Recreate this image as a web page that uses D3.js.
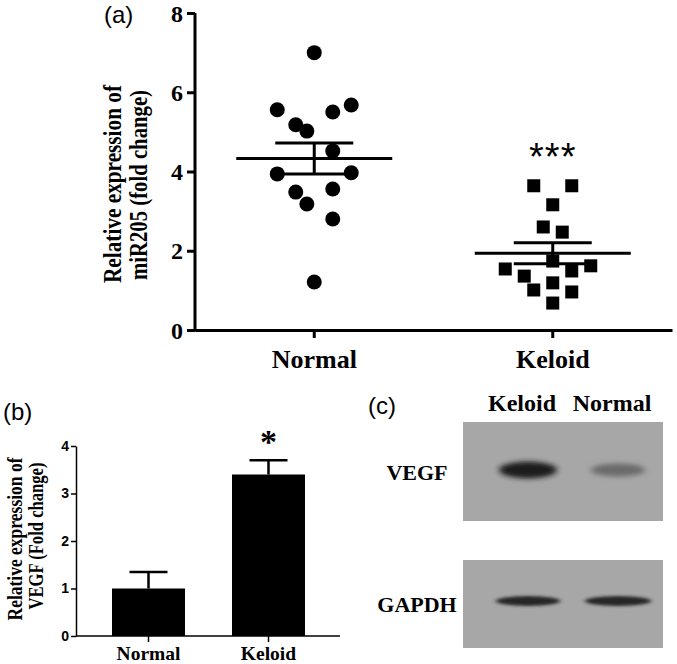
<!DOCTYPE html>
<html><head><meta charset="utf-8">
<script src="https://cdn.jsdelivr.net/npm/d3@7"></script>
<style>body{margin:0;background:#fff}svg{display:block}</style>
</head><body>
<svg id="c" width="677" height="664"></svg>
<script>
// ---- Panel (a) data ----
const groupsA = ["Normal", "Keloid"];
const normalVals = [7.0, 5.56, 5.68, 5.5, 5.18, 5.02, 4.52, 3.94, 3.97, 3.48, 3.56, 3.18, 2.8, 1.21];
const normalOffsets = [0, -1, 1, 0.5, -0.5, -0.2, 0.5, -1, 1, -0.5, 0.5, -0.2, 0.5, 0];
const keloidVals = [3.64, 3.64, 3.16, 2.6, 2.47, 1.74, 1.54, 1.62, 1.36, 1.49, 1.19, 1.01, 0.96, 0.68];
const keloidOffsets = [-0.5, 0.5, 0, -0.25, 0.25, 0, -1.25, 1, -0.75, 0.5, 0, -0.5, 0.5, 0];
const ticksA = [0, 2, 4, 6, 8];
// ---- Panel (b) data ----
const groupsB = ["Normal", "Keloid"];
const vegfMean = [1.0, 3.4];
const vegfErr = [0.35, 0.3];
const ticksB = [0, 1, 2, 3, 4];
// ---- Panel (c) data ----
const lanes = ["Keloid", "Normal"];
const vegfBand = [0.9, 0.4];
const gapdhBand = [0.85, 0.85];

const svg = d3.select("#c");
const serif = "'Liberation Serif','Times New Roman',serif";
const sans = "'Liberation Sans',Arial,sans-serif";

function meanSem(a){const m=d3.mean(a);const s=d3.deviation(a)/Math.sqrt(a.length);return [m,s];}

// ================= Panel (a) =================
{
  const y = d3.scaleLinear().domain([0,8]).range([330,13]);
  const x = d3.scaleBand().domain(groupsA).range([195,672]).paddingInner(0).paddingOuter(0);
  const g = svg.append("g");
  const ya = g.append("g").attr("transform","translate(195,0)")
    .call(d3.axisLeft(y).tickValues(ticksA).tickSize(8).tickSizeOuter(0).tickFormat(d3.format("d")));
  ya.select(".domain").attr("stroke-width",3).attr("d","M0,"+(y(0)+1.5)+"V"+y(8));
  ya.selectAll(".tick line").attr("stroke-width",3);
  ya.selectAll(".tick text").attr("font-family",serif).attr("font-weight","bold").attr("font-size",24).attr("fill","#000").attr("dx",-1).attr("dy","0.34em");
  const xa = g.append("g").attr("transform","translate(0,330)")
    .call(d3.axisBottom(x).tickSize(8).tickSizeOuter(0));
  xa.select(".domain").attr("stroke-width",3);
  xa.selectAll(".tick line").attr("stroke-width",3);
  xa.selectAll(".tick text").attr("font-family",serif).attr("font-weight","bold").attr("font-size",26).attr("fill","#000").attr("dy",null).attr("y",38);
  const cx = g => x(g)+x.bandwidth()/2;
  // points
  g.selectAll("circle.n").data(normalVals).join("circle")
    .attr("cx",(d,i)=>cx("Normal")+normalOffsets[i]*37).attr("cy",d=>y(d)).attr("r",7.5).attr("fill","#000");
  g.selectAll("rect.k").data(keloidVals).join("rect")
    .attr("x",(d,i)=>cx("Keloid")+keloidOffsets[i]*38-6.5).attr("y",d=>y(d)-6.5)
    .attr("width",13).attr("height",13).attr("fill","#000");
  // mean +/- sem
  [[groupsA[0],normalVals],[groupsA[1],keloidVals]].forEach(([gr,vals])=>{
    const [m,s]=meanSem(vals);const c=cx(gr);
    g.append("line").attr("x1",c-78).attr("x2",c+78).attr("y1",y(m)).attr("y2",y(m)).attr("stroke","#000").attr("stroke-width",3);
    g.append("line").attr("x1",c).attr("x2",c).attr("y1",y(m+s)).attr("y2",y(m-s)).attr("stroke","#000").attr("stroke-width",3);
    g.append("line").attr("x1",c-39).attr("x2",c+39).attr("y1",y(m+s)).attr("y2",y(m+s)).attr("stroke","#000").attr("stroke-width",3);
    g.append("line").attr("x1",c-39).attr("x2",c+39).attr("y1",y(m-s)).attr("y2",y(m-s)).attr("stroke","#000").attr("stroke-width",3);
  });
  g.append("text").attr("x",cx("Keloid")).attr("y",170).attr("text-anchor","middle")
    .attr("font-family",sans).attr("font-size",38).attr("letter-spacing",1).text("***");
  g.append("text").attr("transform","translate(121,184) rotate(-90)").attr("text-anchor","middle")
    .attr("font-family",serif).attr("font-weight","bold").attr("font-size",25)
    .attr("textLength",198).attr("lengthAdjust","spacingAndGlyphs").text("Relative expression of");
  g.append("text").attr("transform","translate(147,185) rotate(-90)").attr("text-anchor","middle")
    .attr("font-family",serif).attr("font-weight","bold").attr("font-size",25)
    .attr("textLength",190).attr("lengthAdjust","spacingAndGlyphs").text("miR205 (fold change)");
  g.append("text").attr("x",104).attr("y",23).attr("font-family",sans).attr("font-size",24).text("(a)");
}

// ================= Panel (b) =================
{
  const y = d3.scaleLinear().domain([0,4]).range([636,446]);
  const x = d3.scaleBand().domain(groupsB).range([76,362]).paddingInner(0).paddingOuter(0);
  const g = svg.append("g");
  const cx = d => x(d)+x.bandwidth()/2 + (d==="Normal"?1:-22);
  g.selectAll("rect.bar").data(groupsB).join("rect")
    .attr("x",d=>cx(d)-36.5).attr("width",73)
    .attr("y",(d,i)=>y(vegfMean[i])).attr("height",(d,i)=>y(0)-y(vegfMean[i])).attr("fill","#000");
  groupsB.forEach((d,i)=>{
    const c=cx(d);
    g.append("line").attr("x1",c).attr("x2",c).attr("y1",y(vegfMean[i])).attr("y2",y(vegfMean[i]+vegfErr[i])).attr("stroke","#000").attr("stroke-width",2.5);
    g.append("line").attr("x1",c-19).attr("x2",c+19).attr("y1",y(vegfMean[i]+vegfErr[i])).attr("y2",y(vegfMean[i]+vegfErr[i])).attr("stroke","#000").attr("stroke-width",2.5);
  });
  const ya = g.append("g").attr("transform","translate(76,0)")
    .call(d3.axisLeft(y).tickValues(ticksB).tickSize(5).tickSizeOuter(0).tickFormat(d3.format("d")));
  ya.select(".domain").attr("stroke-width",1.5);
  ya.selectAll(".tick line").attr("stroke-width",1.5);
  ya.selectAll(".tick text").attr("font-family",sans).attr("font-weight","bold").attr("font-size",14).attr("fill","#000").attr("x",-7);
  // x axis
  g.append("line").attr("x1",76).attr("x2",340).attr("y1",y(0)).attr("y2",y(0)).attr("stroke","#000").attr("stroke-width",1.5);
  groupsB.forEach(d=>{
    g.append("line").attr("x1",cx(d)).attr("x2",cx(d)).attr("y1",y(0)).attr("y2",y(0)+6).attr("stroke","#000").attr("stroke-width",1.5);
    g.append("text").attr("x",cx(d)).attr("y",660).attr("text-anchor","middle").attr("font-family",serif).attr("font-weight","bold").attr("font-size",19.5).text(d);
  });
  g.append("text").attr("x",cx("Keloid")).attr("y",453).attr("text-anchor","middle").attr("font-family",serif).attr("font-weight","bold").attr("font-size",34).text("*");
  g.append("text").attr("transform","translate(22,539) rotate(-90)").attr("text-anchor","middle")
    .attr("font-family",serif).attr("font-weight","bold").attr("font-size",21)
    .attr("textLength",163).attr("lengthAdjust","spacingAndGlyphs").text("Relative expression of");
  g.append("text").attr("transform","translate(43,536) rotate(-90)").attr("text-anchor","middle")
    .attr("font-family",serif).attr("font-weight","bold").attr("font-size",21)
    .attr("textLength",147).attr("lengthAdjust","spacingAndGlyphs").text("VEGF (Fold change)");
  g.append("text").attr("x",3).attr("y",420).attr("font-family",sans).attr("font-size",24).text("(b)");
}

// ================= Panel (c) =================
{
  const g = svg.append("g");
  const defs = svg.append("defs");
  defs.append("filter").attr("id","blur").attr("x","-50%").attr("y","-100%").attr("width","200%").attr("height","300%")
    .append("feGaussianBlur").attr("stdDeviation","3 2.5");
  defs.append("filter").attr("id","blur2").attr("x","-50%").attr("y","-100%").attr("width","200%").attr("height","300%")
    .append("feGaussianBlur").attr("stdDeviation","2.5 1.5");
  const x = d3.scalePoint().domain(lanes).range([528,618]);
  const blots = [
    {name:"VEGF", y0:422, y1:521, bandY:470, bandH:[17,13], vals:vegfBand, widths:[58,54], filt:"blur"},
    {name:"GAPDH", y0:560, y1:648, bandY:601, bandH:[10,10], vals:gapdhBand, widths:[64,66], filt:"blur2"}
  ];
  const shade = d3.scaleLinear().domain([0,1]).range(["#a7a7a7","#101010"]);
  blots.forEach(b=>{
    g.append("rect").attr("x",463).attr("y",b.y0).attr("width",200).attr("height",b.y1-b.y0).attr("fill","#a7a7a7");
    lanes.forEach((l,i)=>{
      g.append("ellipse").attr("cx",x(l)).attr("cy",b.bandY).attr("rx",b.widths[i]/2).attr("ry",b.bandH[i]/2)
        .attr("fill",shade(b.vals[i])).attr("filter","url(#"+b.filt+")");
    });
    g.append("text").attr("x",417).attr("y",(b.y0+b.y1)/2+8).attr("text-anchor","middle")
      .attr("font-family",serif).attr("font-weight","bold").attr("font-size",22).text(b.name);
  });
  lanes.forEach(l=>{
    g.append("text").attr("x",x(l)-6).attr("y",411).attr("text-anchor","middle")
      .attr("font-family",serif).attr("font-weight","bold").attr("font-size",24).text(l);
  });
  g.append("text").attr("x",368).attr("y",414).attr("font-family",sans).attr("font-size",24).text("(c)");
}
</script>
</body></html>
